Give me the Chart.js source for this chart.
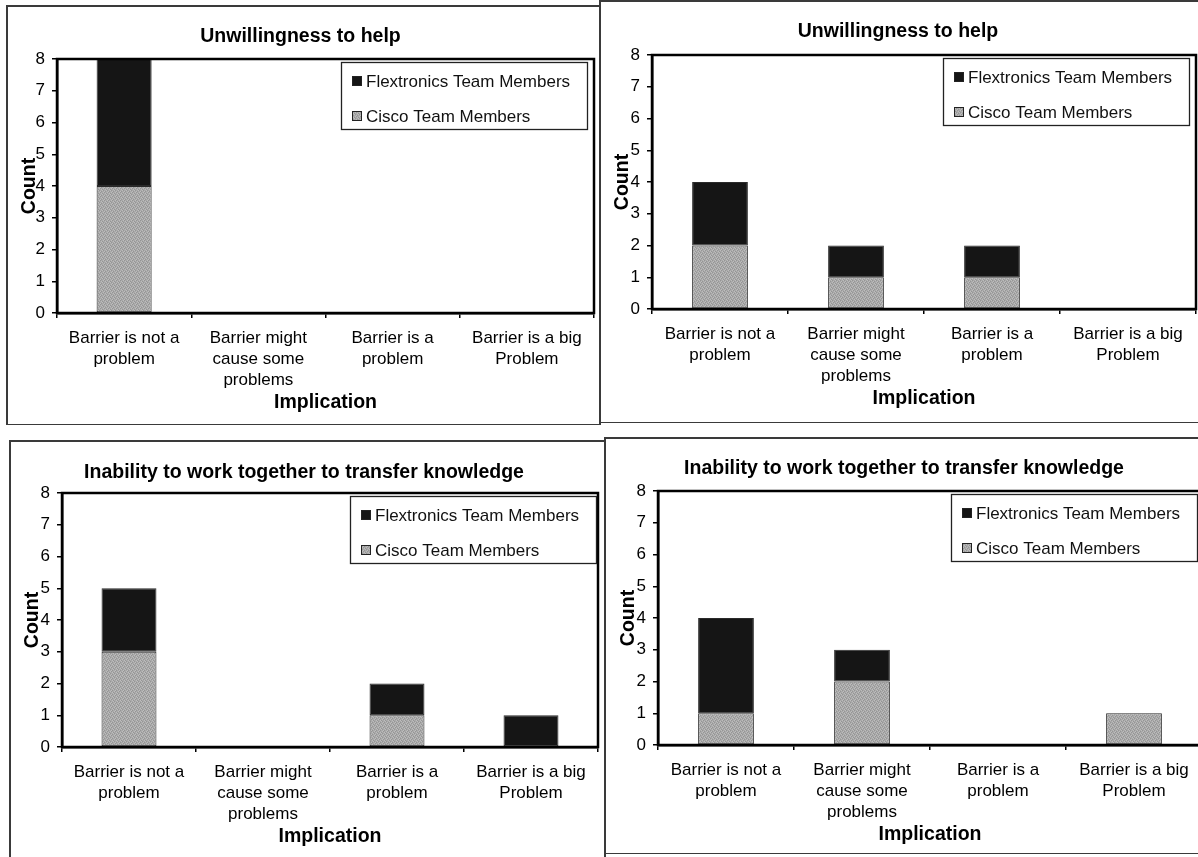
<!DOCTYPE html>
<html>
<head>
<meta charset="utf-8">
<script src="https://cdn.jsdelivr.net/npm/chart.js@4/dist/chart.umd.min.js"></script>
<style>
  html, body { margin: 0; padding: 0; background: #fff; overflow: hidden; width: 1198px; height: 857px; }
  .rule { position: absolute; background: #3a3a3a; }
  canvas { position: absolute; }
</style>
</head>
<body>
<script>
// ---- data ----
const categories = [
  ["Barrier is not a", "problem"],
  ["Barrier might", "cause some", "problems"],
  ["Barrier is a", "problem"],
  ["Barrier is a big", "Problem"]
];
const countTicks = [0, 1, 2, 3, 4, 5, 6, 7, 8];
const seriesCisco = "Cisco Team Members";
const seriesFlex = "Flextronics Team Members";
const titleHelp = "Unwillingness to help";
const titleTransfer = "Inability to work together to transfer knowledge";
const xAxisTitle = "Implication";
const yAxisTitle = "Count";

const ciscoHelpA = [4, 0, 0, 0];
const flexHelpA  = [4, 0, 0, 0];
const ciscoHelpB = [2, 1, 1, 0];
const flexHelpB  = [2, 1, 1, 0];
const ciscoTransferA = [3, 0, 1, 0];
const flexTransferA  = [2, 0, 1, 1];
const ciscoTransferB = [1, 2, 0, 1];
const flexTransferB  = [3, 1, 0, 0];

// ---- layout of the four panels (page pixels) ----
const panels = [
  { title: titleHelp, cisco: ciscoHelpA, flex: flexHelpA,
    box: { x: 7, y: 6, w: 593, h: 419 }, area: { l: 57, r: 594, t: 59, b: 313 }, titleY: 37, legendRight: 7 },
  { title: titleHelp, cisco: ciscoHelpB, flex: flexHelpB,
    box: { x: 600, y: 0, w: 600, h: 423 }, area: { l: 652, r: 1196, t: 55, b: 309 }, titleY: 32, legendRight: 7 },
  { title: titleTransfer, cisco: ciscoTransferA, flex: flexTransferA,
    box: { x: 10, y: 441, w: 595, h: 416 }, area: { l: 62, r: 598, t: 493, b: 747 }, titleY: 473, legendRight: 2 },
  { title: titleTransfer, cisco: ciscoTransferB, flex: flexTransferB,
    box: { x: 606, y: 438, w: 597, h: 416 }, area: { l: 658, r: 1202, t: 491, b: 745 }, titleY: 469, legendRight: 5 }
];

// panel frame lines
const rules = [
  [6, 5, 594, 1.5], [6, 5, 1.5, 420], [6, 423.5, 594, 1.5],
  [599, 0, 2, 425], [600, 0, 598, 1.5], [600, 421.5, 598, 1.5],
  [9, 440, 596, 1.5], [9, 440, 1.5, 417],
  [604, 437, 2, 420], [605, 437, 593, 1.5], [605, 852.5, 593, 1.5]
];
rules.forEach(([x, y, w, h]) => {
  const d = document.createElement('div');
  d.className = 'rule';
  Object.assign(d.style, { left: x + 'px', top: y + 'px', width: w + 'px', height: h + 'px' });
  document.body.appendChild(d);
});

const FAMILY = '"Liberation Sans", Arial, Helvetica, sans-serif';
Chart.defaults.font.family = FAMILY;
Chart.defaults.color = '#000';

const TITLE_SIZE = 19.5;
const TITLE_LH = TITLE_SIZE * 1.2;

// speckled grey fill for the Cisco series
function greyGrain() {
  const c = document.createElement('canvas');
  c.width = 4; c.height = 4;
  const g = c.getContext('2d');
  g.fillStyle = '#a9a9a9'; g.fillRect(0, 0, 4, 4);
  g.fillStyle = '#959595';
  [[0, 0], [2, 1], [1, 2], [3, 3]].forEach(([x, y]) => g.fillRect(x, y, 1, 1));
  g.fillStyle = '#bdbdbd';
  [[2, 3], [0, 2], [3, 0], [1, 1]].forEach(([x, y]) => g.fillRect(x, y, 1, 1));
  return g.createPattern(c, 'repeat');
}
const GREY = greyGrain();
const BLACK = '#151515';

// thick black frame round the plot area
const plotFrame = {
  id: 'plotFrame',
  afterDatasetsDraw(chart) {
    const { ctx, chartArea: a } = chart;
    ctx.save();
    ctx.strokeStyle = '#000';
    ctx.lineWidth = 2.5;
    ctx.strokeRect(a.left, a.top, a.right - a.left, a.bottom - a.top);
    ctx.restore();
  }
};

// boxed legend in the upper right of the plot area
const boxLegend = {
  id: 'boxLegend',
  afterDraw(chart, args, opts) {
    const { ctx, chartArea } = chart;
    const w = opts.width, h = opts.height;
    const x = Math.round(chartArea.right - opts.right - w);
    const y = Math.round(chartArea.top + opts.top);
    ctx.save();
    ctx.fillStyle = '#fff';
    ctx.fillRect(x, y, w, h);
    ctx.strokeStyle = '#222';
    ctx.lineWidth = 1.3;
    ctx.strokeRect(x + 0.5, y + 0.5, w, h);
    ctx.font = '17px ' + FAMILY;
    ctx.textBaseline = 'middle';
    chart.data.datasets.slice().reverse().forEach((d, i) => {
      const cy = Math.round(y + opts.firstRow + i * opts.rowGap);
      ctx.fillStyle = d.backgroundColor;
      ctx.fillRect(x + 11, cy - 5, 10, 10);
      ctx.strokeStyle = '#222';
      ctx.lineWidth = 1;
      ctx.strokeRect(x + 11.5, cy - 4.5, 9, 9);
      ctx.fillStyle = '#111';
      ctx.fillText(d.label, x + 25, cy + 1);
    });
    ctx.restore();
  }
};

panels.forEach((p) => {
  const cv = document.createElement('canvas');
  cv.width = p.box.w; cv.height = p.box.h;
  cv.style.left = p.box.x + 'px';
  cv.style.top = p.box.y + 'px';
  document.body.appendChild(cv);

  const yWidth = p.area.l - p.box.x;
  const xHeight = (p.box.y + p.box.h) - p.area.b;
  const titleTop = (p.titleY - p.box.y) - TITLE_LH / 2;
  const titleBottom = (p.area.t - p.box.y) - titleTop - TITLE_LH;

  new Chart(cv, {
    type: 'bar',
    data: {
      labels: categories,
      datasets: [
        { label: seriesCisco, data: p.cisco, backgroundColor: GREY },
        { label: seriesFlex, data: p.flex, backgroundColor: BLACK }
      ]
    },
    options: {
      responsive: false,
      animation: false,
      devicePixelRatio: 1,
      layout: { padding: { left: 0, top: 0, bottom: 0, right: (p.box.x + p.box.w) - p.area.r } },
      datasets: {
        bar: {
          categoryPercentage: 1,
          barPercentage: 0.41,
          borderColor: '#2a2a2a',
          borderWidth: 1,
          borderSkipped: false
        }
      },
      plugins: {
        legend: { display: false },
        tooltip: { enabled: false },
        title: {
          display: true,
          text: p.title,
          color: '#000',
          font: { size: TITLE_SIZE, weight: 'bold', lineHeight: 1.2 },
          padding: { top: titleTop, bottom: titleBottom }
        },
        boxLegend: { width: 246, height: 67, right: p.legendRight, top: 3, firstRow: 19, rowGap: 35 }
      },
      scales: {
        x: {
          stacked: true,
          afterFit(scale) { scale.height = xHeight; },
          grid: { offset: true, drawOnChartArea: false, drawTicks: true, tickLength: 5, color: '#000', lineWidth: 1.5 },
          border: { display: true, color: '#000', width: 2.5 },
          ticks: {
            color: '#000', padding: 10, maxRotation: 0, autoSkip: false,
            font: { size: 17, lineHeight: 1.24 }
          },
          title: {
            display: true, text: xAxisTitle, color: '#000',
            font: { size: TITLE_SIZE, weight: 'bold', lineHeight: 1.2 },
            padding: { top: 0, bottom: xHeight - 90 - TITLE_LH / 2 }
          }
        },
        y: {
          stacked: true,
          min: 0,
          max: 8,
          afterFit(scale) { scale.width = yWidth; },
          afterBuildTicks(scale) { scale.ticks = countTicks.map(v => ({ value: v })); },
          grid: { drawOnChartArea: false, drawTicks: true, tickLength: 5, color: '#000', lineWidth: 1.5 },
          border: { display: true, color: '#000', width: 2.5 },
          ticks: { color: '#000', padding: 7, font: { size: 17 } },
          title: {
            display: true, text: yAxisTitle, color: '#000',
            font: { size: TITLE_SIZE, weight: 'bold', lineHeight: 1.2 },
            padding: { top: 23 - TITLE_LH / 2, bottom: 0 }
          }
        }
      }
    },
    plugins: [plotFrame, boxLegend]
  });
});
</script>
</body>
</html>
